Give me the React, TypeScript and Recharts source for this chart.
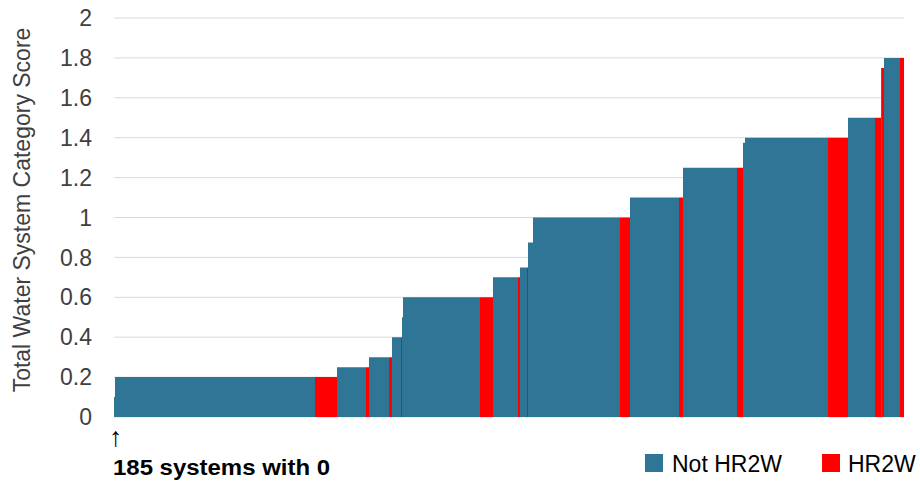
import { BarChart, Bar, XAxis, YAxis, CartesianGrid } from 'recharts';

// run-length groups of systems, sorted by score (one group = run of same score & same HR2W status)
const scores = [0.1, 0.2, 0.2, 0.25, 0.25, 0.3, 0.3, 0.4, 0.4, 0.5, 0.6, 0.6, 0.7, 0.7, 0.75, 0.75, 0.875, 1.0, 1.0, 1.1, 1.1, 1.25, 1.25, 1.375, 1.4, 1.4, 1.5, 1.5, 1.75, 1.75, 1.8, 1.8];
const counts = [1, 200, 22, 29, 3, 20, 3, 9, 1, 1, 77, 13, 25, 2, 7, 1, 5, 87, 10, 49, 4, 54, 6, 2, 83, 20, 27, 6, 1, 2, 16, 4];
const hr2w = [0, 0, 1, 0, 1, 0, 1, 0, 1, 0, 0, 1, 0, 1, 0, 1, 0, 0, 1, 0, 1, 0, 1, 0, 0, 1, 0, 1, 0, 1, 0, 1];

const yTicks = [0, 0.2, 0.4, 0.6, 0.8, 1, 1.2, 1.4, 1.6, 1.8, 2];
const seriesNames = ['Not HR2W', 'HR2W'];
const seriesColors = ['#2E7596', '#FF0000'];

const FONT = '"Liberation Sans", Arial, sans-serif';

const data: { i: number; notHr: number; hr: number }[] = [];
scores.forEach((s, g) => {
  for (let k = 0; k < counts[g]; k++) {
    data.push({ i: data.length, notHr: hr2w[g] ? 0 : s, hr: hr2w[g] ? s : 0 });
  }
});

function AxisTitle() {
  return (
    <text
      x={30}
      y={210}
      transform="rotate(-90, 30, 210)"
      textAnchor="middle"
      fontSize={23}
      fontFamily={FONT}
      fill="#404040"
    >
      Total Water System Category Score
    </text>
  );
}

export default function App() {
  return (
    <div style={{ position: 'absolute', left: 0, top: 0, width: 920, height: 483, background: '#fff' }}>
      <BarChart
        width={920}
        height={483}
        data={data}
        margin={{ top: 18, right: 16, bottom: 66, left: 0 }}
        barCategoryGap={0}
        barGap={0}
      >
        <CartesianGrid stroke="#d9d9d9" vertical={false} />
        <XAxis dataKey="i" type="category" hide />
        <YAxis
          width={114}
          domain={[0, 2]}
          ticks={yTicks}
          axisLine={false}
          tickLine={false}
          tickSize={0}
          tickMargin={22}
          tick={{ fontSize: 23, fontFamily: FONT, fill: '#404040' }}
          label={<AxisTitle />}
        />
        <Bar dataKey="notHr" stackId="a" name={seriesNames[0]} fill={seriesColors[0]} isAnimationActive={false} />
        <Bar dataKey="hr" stackId="a" name={seriesNames[1]} fill={seriesColors[1]} isAnimationActive={false} />
      </BarChart>
      <svg
        width={920}
        height={483}
        style={{ position: 'absolute', left: 0, top: 0, pointerEvents: 'none' }}
      >
        <text x={109} y={446} fontSize={27} fontFamily={FONT} fill="#000">↑</text>
        <text
          x={113}
          y={475}
          fontSize={22}
          fontWeight="bold"
          fontFamily={FONT}
          fill="#000"
          textLength={217}
          lengthAdjust="spacingAndGlyphs"
        >
          185 systems with 0
        </text>
        <rect x={645} y={454} width={18} height={18} fill={seriesColors[0]} />
        <text x={672} y={472} fontSize={23} fontFamily={FONT} fill="#000">{seriesNames[0]}</text>
        <rect x={822} y={454} width={18} height={18} fill={seriesColors[1]} />
        <text x={848} y={472} fontSize={23} fontFamily={FONT} fill="#000">{seriesNames[1]}</text>
      </svg>
    </div>
  );
}
